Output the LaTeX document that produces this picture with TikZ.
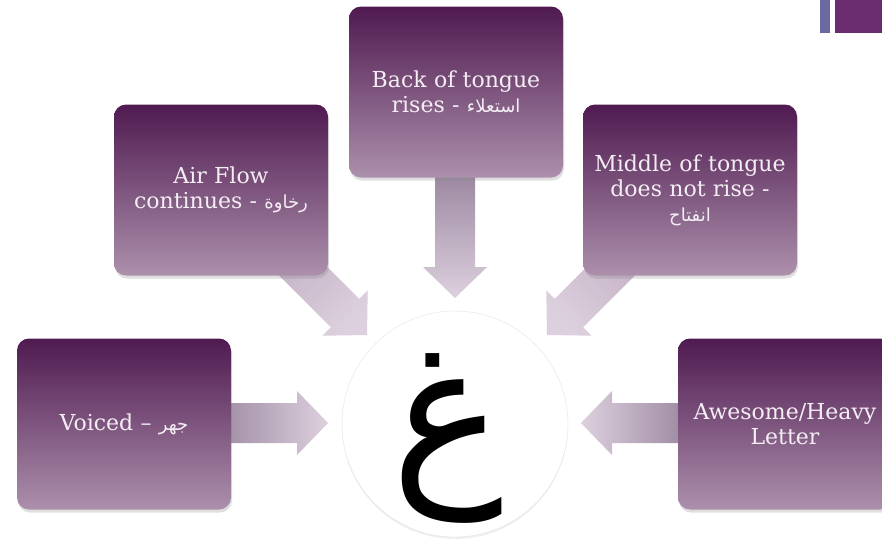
\documentclass[tikz,border=0pt]{standalone}
\usepackage{fontspec}
\setmainfont{DejaVu Serif}
\newfontfamily\arabicfont[Script=Arabic]{DejaVu Sans}
\TeXXeTstate=1
\usetikzlibrary{positioning, calc, shadows}

\definecolor{boxtop}{HTML}{4F1A50}
\definecolor{boxbot}{HTML}{AC90AC}
\definecolor{arrowdark}{HTML}{94809A}
\definecolor{arrowmid}{HTML}{C2B0C4}
\definecolor{arrowlight}{HTML}{DDD0DE}
\definecolor{boxtext}{HTML}{F4EEF4}
\definecolor{barblue}{HTML}{6A69A0}
\definecolor{barpurple}{HTML}{6A2C6E}

\newcommand{\arabictext}[1]{{\arabicfont\fontsize{18}{25}\selectfont\beginR #1\endR}}

% block arrow: #1 shading, #2 start, #3 tip
\newcommand{\blockarrow}[3]{%
  \coordinate (h) at ($(#3)!31pt!(#2)$);
  \shade[#1] ($(#2)!20pt!90:(#3)$) -- ($(h)!20pt!90:(#3)$) -- ($(h)!32pt!90:(#3)$)
    -- (#3) -- ($(h)!32pt!-90:(#3)$) -- ($(h)!20pt!-90:(#3)$) -- ($(#2)!20pt!-90:(#3)$) -- cycle;
}

\begin{document}
\begin{tikzpicture}[x=1pt, y=-1pt,
    featurebox/.style={rounded corners=12pt, minimum width=214pt, minimum height=171pt,
        top color=boxtop, bottom color=boxbot, text=boxtext, align=center, text width=200pt,
        font=\fontsize{22}{25}\selectfont,
        drop shadow={shadow xshift=1pt, shadow yshift=-3pt, opacity=0.25}}]
    \useasboundingbox (0,0) rectangle (882,539);
    \clip (0,0) rectangle (882,539);
    \fill[white] (0,0) rectangle (882,539);

    % corner bars
    \fill[barblue] (820,0) rectangle (830,33);
    \fill[barpurple] (835,0) rectangle (882,33);

    % arrow ends
    \coordinate (backstart) at (455,160);
    \coordinate (backtip) at (455,298);
    \coordinate (airstart) at (280,248);
    \coordinate (airtip) at (367,335);
    \coordinate (midstart) at (635,247);
    \coordinate (midtip) at (547,335);
    \coordinate (voicedstart) at (200,423);
    \coordinate (voicedtip) at (328,423);
    \coordinate (heavystart) at (700,423);
    \coordinate (heavytip) at (581,423);

    \blockarrow{top color=arrowdark, bottom color=arrowlight}{backstart}{backtip}
    \blockarrow{top color=arrowmid, bottom color=arrowlight, shading angle=45}{airstart}{airtip}
    \blockarrow{top color=arrowmid, bottom color=arrowlight, shading angle=-45}{midstart}{midtip}
    \blockarrow{left color=arrowdark, right color=arrowlight}{voicedstart}{voicedtip}
    \blockarrow{left color=arrowlight, right color=arrowdark}{heavystart}{heavytip}

    % boxes
    \node[featurebox] (back) at (456,92) {Back of tongue\\rises - \arabictext{استعلاء}};
    \node[featurebox] (airflow) at (221,190) {Air Flow\\continues - \arabictext{رخاوة}};
    \node[featurebox] (middle) at (690,190) {Middle of tongue\\does not rise -\\\arabictext{انفتاح}};
    \node[featurebox] (voiced) at (124,424) {Voiced -- \arabictext{جهر}};
    \node[featurebox] (heavy) at (785,424) {Awesome/Heavy\\Letter};

    % the letter
    \node[circle, fill=white, draw=black!10, minimum size=226pt,
        drop shadow={shadow xshift=0pt, shadow yshift=-2pt, opacity=0.12}] (letter) at (455,424) {};
    \node[inner sep=0pt, font=\arabicfont\fontsize{188}{188}\selectfont] (ghain) at (448,438) {\beginR غ\endR};
\end{tikzpicture}
\end{document}
